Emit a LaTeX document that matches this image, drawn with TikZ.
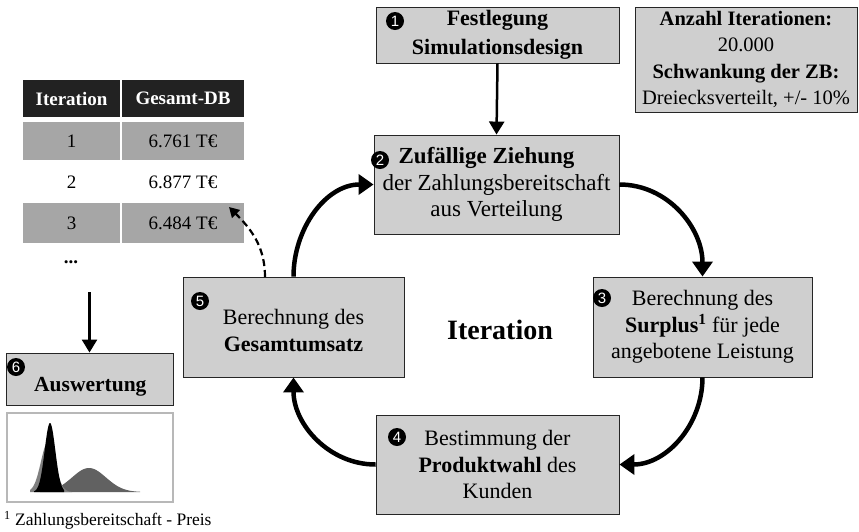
\documentclass[tikz,border=0pt]{standalone}
\usepackage{fontspec}
\setmainfont{Liberation Serif}
\newfontfamily\mkfont{Liberation Sans}
\usetikzlibrary{arrows.meta}
\definecolor{boxgray}{HTML}{CFCFCF}
\definecolor{rowgray}{HTML}{A6A6A6}
\definecolor{headdark}{HTML}{222222}
\begin{document}
\begin{tikzpicture}[x=1pt,y=-1pt,
  box/.style={draw=black!85, line width=0.9pt, fill=boxgray, inner sep=0pt, align=center,
    font=\fontsize{22}{26.5}\selectfont},
  mk/.style={circle, fill=black, text=white, inner sep=0pt, minimum size=18pt,
    font=\mkfont\fontsize{15}{15}\selectfont},
  cyc/.style={line width=4.5pt, -{Triangle[length=15pt,width=20pt]}},
  arr/.style={line width=2.5pt, -{Triangle[length=13pt,width=15pt]}},
  darr/.style={line width=2.2pt, dash pattern=on 7pt off 4pt, -{Triangle[length=10pt,width=11pt]}},
  hcell/.style={fill=headdark, text=white, inner sep=0pt, font=\bfseries\fontsize{19}{22}\selectfont},
  gcell/.style={fill=rowgray, inner sep=0pt, font=\fontsize{19}{22}\selectfont},
  tcell/.style={inner sep=0pt, font=\fontsize{19}{22}\selectfont}
]
\useasboundingbox (0,0) rectangle (859,531);

% main boxes
\node[box, minimum width=243pt, minimum height=56pt, font=\bfseries\fontsize{22}{29}\selectfont] (b1) at (497.5,35)
  {Festlegung\\Simulationsdesign};
\node[box, minimum width=222pt, minimum height=105pt, font=\fontsize{20.5}{26.5}\selectfont] (info) at (746,59.5)
  {\textbf{Anzahl Iterationen:}\\20.000\\\textbf{Schwankung der ZB:}\\Dreiecksverteilt, +/- 10\%};
\node[box, minimum width=245pt, minimum height=99pt, font=\fontsize{23}{26.5}\selectfont] (b2) at (496.5,184.5)
  {\hspace*{-20pt}\textbf{Zufällige Ziehung}\\der Zahlungsbereitschaft\\aus Verteilung};
\node[box, minimum width=219pt, minimum height=100pt] (b3) at (702.5,327)
  {Berechnung des\\\textbf{Surplus\textsuperscript{1}} für jede\\angebotene Leistung};
\node[box, minimum width=243pt, minimum height=99pt] (b4) at (497.5,464.5)
  {Bestimmung der\\\textbf{Produktwahl} des\\Kunden};
\node[box, minimum width=221pt, minimum height=100pt] (b5) at (293.5,327)
  {\\[-4pt]Berechnung des\\\textbf{Gesamtumsatz}};
\node[box, minimum width=167pt, minimum height=52pt] (b6) at (89.5,379) {};
\node[anchor=west, inner sep=0pt, font=\bfseries\fontsize{21.5}{24}\selectfont] (t6) at (34,387) {Auswertung};

% markers
\node[mk] (m1) at (395,21) {1};
\node[mk] (m2) at (380,160) {2};
\node[mk] (m3) at (602,298) {3};
\node[mk] (m4) at (397,437) {4};
\node[mk] (m5) at (200,301) {5};
\node[mk] (m6) at (16,367) {6};

% center label
\node[font=\bfseries\fontsize{28}{30}\selectfont] (it) at (500,330) {Iteration};

% table
\node[hcell, minimum width=97pt, minimum height=37pt] (h1) at (71.5,98.5) {Iteration};
\node[hcell, minimum width=122pt, minimum height=37pt] (h2) at (183,98.5) {Gesamt-DB};
\node[gcell, minimum width=97pt, minimum height=38pt] (r1a) at (71.5,141) {1};
\node[gcell, minimum width=122pt, minimum height=38pt] (r1b) at (183,141) {6.761 T€};
\node[tcell] (r2a) at (71.5,182) {2};
\node[tcell] (r2b) at (183,182) {6.877 T€};
\node[gcell, minimum width=97pt, minimum height=40pt] (r3a) at (71.5,223) {3};
\node[gcell, minimum width=122pt, minimum height=40pt] (r3b) at (183,223) {6.484 T€};
\node[tcell, font=\bfseries\fontsize{19}{22}\selectfont] (dots) at (71,262) {...};

% histogram
\node[draw=black!28, line width=1.3pt, fill=white, minimum width=166pt, minimum height=89pt, inner sep=0pt] (hist) at (90,457.5) {};
\fill[black!62] (40,492) -- plot[domain=40:140, samples=80] (\x,{492-24*exp(-((\x-89)/24)*((\x-89)/24))}) -- (140,492) -- cycle;
\fill[black!50] (30,492) -- plot[domain=30:72, samples=60] (\x,{492-50*exp(-((\x-48)/10)*((\x-48)/10))}) -- (72,492) -- cycle;
\fill[black] (34,492) -- plot[domain=34:64, samples=60] (\x,{492-69*exp(-((\x-50)/7.5)*((\x-50)/7.5))}) -- (64,492) -- cycle;

% footnote
\node[anchor=west, inner sep=0pt, font=\fontsize{17.5}{20}\selectfont] (fn) at (4,520) {\textsuperscript{1} Zahlungsbereitschaft - Preis};

% connectors
\draw[arr] (b1.south) -- (b2.north);
\draw[cyc] (b2.east) to[out=0, in=90] (b3.north);
\draw[cyc] (b3.south) to[out=-90, in=0] (b4.east);
\draw[cyc] (b4.west) to[out=180, in=-90] (b5.south);
\draw[cyc] (b5.north) to[out=90, in=180] (b2.west);
\coordinate (d0) at (265,277);
\coordinate (dt) at (229,207);
\draw[darr] (d0) to[out=90, in=-45] (dt);
\coordinate (ta) at (89.5,292);
\draw[arr] (ta) -- (b6.north);
\end{tikzpicture}
\end{document}
